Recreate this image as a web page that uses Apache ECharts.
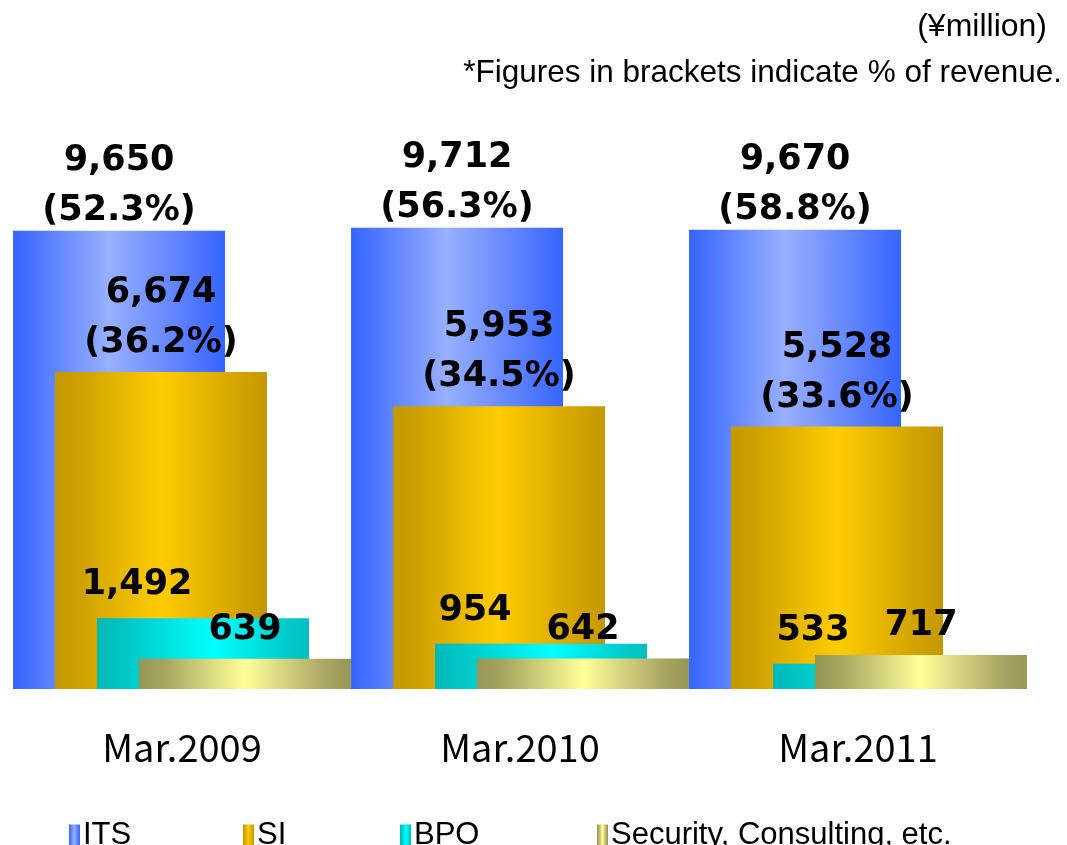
<!DOCTYPE html>
<html><head><meta charset="utf-8">
<script src="https://cdn.jsdelivr.net/npm/echarts@6/dist/echarts.min.js"></script>
<style>html,body{margin:0;padding:0;background:#fff}#c{width:1067px;height:845px}</style>
</head><body><div id="c"></div>
<script>
const categories = ['Mar.2009', 'Mar.2010', 'Mar.2011'];
const seriesNames = ['ITS', 'SI', 'BPO', 'Security, Consulting, etc.'];
const itsVals = [9650, 9712, 9670];
const itsPct = ['52.3', '56.3', '58.8'];
const siVals = [6674, 5953, 5528];
const siPct = ['36.2', '34.5', '33.6'];
const bpoVals = [1492, 954, 533];
const secVals = [639, 642, 717];
const unitText = '(¥million)';
const noteText = '*Figures in brackets indicate % of revenue.';

const fmt = v => v.toLocaleString('en-US');
const grad = stops => new echarts.graphic.LinearGradient(0, 0, 1, 0, stops.map(s => ({offset: s[0], color: s[1]})));
const colors = [
  grad([[0,'#3366ff'],[0.1,'#4a74ff'],[0.45,'#98b0ff'],[0.88,'#4d74ff'],[1,'#3366ff']]),
  grad([[0,'#c49800'],[0.1,'#cc9f00'],[0.5,'#ffcc00'],[0.9,'#cfa000'],[1,'#c49800']]),
  grad([[0,'#00b8b8'],[0.15,'#00c8c8'],[0.55,'#00ffff'],[0.9,'#00caca'],[1,'#00bebe']]),
  grad([[0,'#969655'],[0.12,'#a6a660'],[0.5,'#ffff99'],[0.88,'#aaa664'],[1,'#969655']])
];
const labelFont = {fontFamily: '"DejaVu Sans", sans-serif', fontWeight: 'bold', fontSize: 35, color: '#000'};
const BW = 212;
const GAP = '-80.2%';

const chart = echarts.init(document.getElementById('c'), null, {renderer: 'canvas'});
const legendLefts = [64, 238, 395, 592];
chart.setOption({
  animation: false,
  graphic: [
    {type: 'text', right: 20, top: 11, style: {text: unitText, font: '32px "Liberation Sans", Arial, sans-serif', fill: '#000'}},
    {type: 'text', right: 5, top: 57, style: {text: noteText, font: '31.5px "Liberation Sans", Arial, sans-serif', fill: '#000'}}
  ],
  legend: seriesNames.map((n, i) => ({
    data: [n], left: legendLefts[i], top: 815, itemWidth: 11, itemHeight: 22, itemGap: 10,
    icon: 'rect',
    textStyle: {fontFamily: '"Liberation Sans", Arial, sans-serif', fontSize: 31, color: '#000', padding: [0,0,0,-2]}
  })),
  grid: {left: 13, right: 40, top: 119, bottom: 156, containLabel: false},
  xAxis: {
    type: 'category', data: categories,
    axisLine: {show: false}, axisTick: {show: false},
    axisLabel: {margin: 40, fontSize: 38, color: '#000', fontFamily: '"Noto Sans CJK JP", sans-serif'}
  },
  yAxis: {type: 'value', min: 0, max: 12000, show: false, splitLine: {show: false}},
  series: [
    {name: seriesNames[0], type: 'bar', data: itsVals, barWidth: BW, barGap: GAP, itemStyle: {color: colors[0]},
     label: {show: true, position: 'top', distance: -5, lineHeight: 50, ...labelFont,
       formatter: p => fmt(itsVals[p.dataIndex]) + '\n(' + itsPct[p.dataIndex] + '%)'}},
    {name: seriesNames[1], type: 'bar', data: siVals, barWidth: BW, barGap: GAP, itemStyle: {color: colors[1]},
     label: {show: true, position: 'top', distance: 4, lineHeight: 50, ...labelFont,
       formatter: p => fmt(siVals[p.dataIndex]) + '\n(' + siPct[p.dataIndex] + '%)'}},
    {name: seriesNames[2], type: 'bar', data: bpoVals, barWidth: BW, barGap: GAP, itemStyle: {color: colors[2]},
     label: {show: true, position: 'top', distance: 11, lineHeight: 44, offset: [-66, 0], ...labelFont,
       formatter: p => fmt(bpoVals[p.dataIndex])}},
    {name: seriesNames[3], type: 'bar', data: secVals, barWidth: BW, barGap: GAP, itemStyle: {color: colors[3]},
     label: {show: true, position: 'top', distance: 7, lineHeight: 44, ...labelFont,
       formatter: p => fmt(secVals[p.dataIndex])}}
  ]
});
</script></body></html>
